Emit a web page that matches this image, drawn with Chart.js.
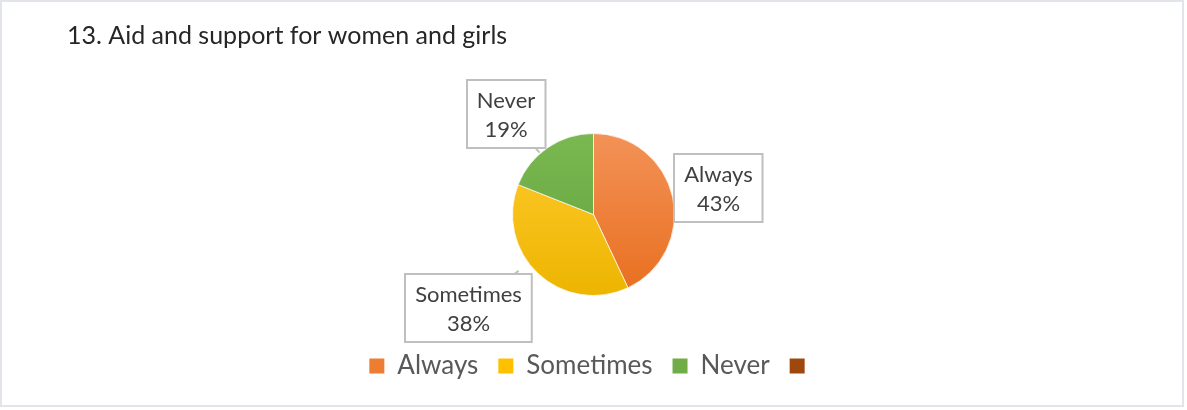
<!DOCTYPE html>
<html><head><meta charset="utf-8">
<script src="https://cdn.jsdelivr.net/npm/chart.js@4.4.0/dist/chart.umd.min.js"></script>
<style>html,body{margin:0;padding:0;background:#fff;}#wrap{width:1187px;height:410px;position:relative;}</style>
</head><body><div id="wrap"><canvas id="c" width="1187" height="410"></canvas></div>
<script>
const titleText = '13. Aid and support for women and girls';
const categories = ['Always', 'Sometimes', 'Never', ''];
const percentages = [43, 38, 19, 0];

const sliceColors = ['#ED7D31', '#FFC000', '#70AD47', '#9E480E'];
const sliceTop = ['#F39257', '#FFCB30', '#7AB852', '#A85420'];
const sliceBottom = ['#E86F1F', '#EDB500', '#62A03B', '#913F0A'];
const labelOffsets = [[1.543, -0.321], [-1.543, 1.16], [-1.08, -1.24], [0, 0]];
const PIE_R = 81;

function sliceFill(ctx) {
  const chart = ctx.chart;
  const area = chart.chartArea;
  const i = ctx.dataIndex;
  if (!area) return sliceColors[i];
  const cy = (area.top + area.bottom) / 2;
  const g = chart.ctx.createLinearGradient(0, cy - PIE_R, 0, cy + PIE_R);
  g.addColorStop(0, sliceTop[i]);
  g.addColorStop(1, sliceBottom[i]);
  return g;
}

const framePlugin = {
  id: 'frame',
  beforeDraw(chart) {
    const c = chart.ctx;
    c.save();
    c.fillStyle = '#ffffff';
    c.fillRect(0, 0, chart.width, chart.height);
    c.strokeStyle = '#e1e5e9';
    c.lineWidth = 2;
    c.strokeRect(1, 1, 1182, 405);
    c.restore();
  }
};

const calloutPlugin = {
  id: 'callouts',
  afterDatasetsDraw(chart) {
    const c = chart.ctx;
    const meta = chart.getDatasetMeta(0);
    const pad = 10, h = 68;
    c.save();
    c.font = '22px Lato';
    meta.data.forEach((arc, i) => {
      if (!percentages[i]) return;
      const p = arc.getProps(['x', 'y', 'outerRadius'], true);
      const R = p.outerRadius;
      const cx = p.x + labelOffsets[i][0] * R;
      const cy = p.y + labelOffsets[i][1] * R;
      const l1 = categories[i], l2 = percentages[i] + '%';
      const w = Math.max(c.measureText(l1).width, c.measureText(l2).width) + 2 * pad;
      const x0 = Math.round(cx - w / 2), y0 = Math.round(cy - h / 2);
      const dx = cx - p.x, dy = cy - p.y, d = Math.hypot(dx, dy);
      const rx = p.x + dx / d * R, ry = p.y + dy / d * R;
      const inside = rx > x0 && rx < x0 + w && ry > y0 && ry < y0 + h;
      c.strokeStyle = '#bfbfbf';
      c.lineWidth = 2;
      if (!inside) {
        let t = 1;
        const vx = rx - cx, vy = ry - cy;
        if (vx) t = Math.min(t, Math.abs((w / 2) / vx));
        if (vy) t = Math.min(t, Math.abs((h / 2) / vy));
        const ex = cx + vx * t, ey = cy + vy * t;
        const L = Math.hypot(rx - ex, ry - ey);
        const k = L > 6 ? 6 / L : 1;
        c.beginPath();
        c.moveTo(ex, ey);
        c.lineTo(ex + (rx - ex) * k, ey + (ry - ey) * k);
        c.stroke();
      }
      c.fillStyle = '#ffffff';
      c.fillRect(x0, y0, w, h);
      c.strokeRect(x0, y0, w, h);
      c.fillStyle = '#404040';
      c.textAlign = 'center';
      c.textBaseline = 'middle';
      c.fillText(l1, cx, y0 + 20.5);
      c.fillText(l2, cx, y0 + 49.5);
    });
    c.restore();
  }
};

new Chart(document.getElementById('c'), {
  type: 'pie',
  data: {
    labels: categories,
    datasets: [{
      data: percentages,
      backgroundColor: sliceFill,
      borderColor: 'rgba(255,255,255,0.7)',
      borderWidth: [1, 1, 1, 0],
      radius: PIE_R
    }]
  },
  options: {
    responsive: false,
    animation: false,
    devicePixelRatio: 1,
    layout: { padding: { left: 67, right: 67, top: 0, bottom: 21 } },
    plugins: {
      tooltip: { enabled: false },
      title: {
        display: true,
        text: titleText,
        align: 'start',
        color: '#262626',
        font: { family: 'Lato', size: 25, weight: 'normal' },
        padding: { top: 21, bottom: 45 }
      },
      legend: {
        position: 'bottom',
        labels: {
          font: { family: 'Lato', size: 26 },
          color: '#595959',
          boxWidth: 15,
          boxHeight: 15,
          padding: 20,
          generateLabels(chart) {
            return categories.map((t, i) => ({
              text: t,
              fillStyle: sliceColors[i],
              strokeStyle: sliceColors[i],
              lineWidth: 0,
              hidden: false,
              index: i,
              fontColor: '#595959'
            }));
          }
        }
      }
    }
  },
  plugins: [framePlugin, calloutPlugin]
});
</script>
</body></html>
